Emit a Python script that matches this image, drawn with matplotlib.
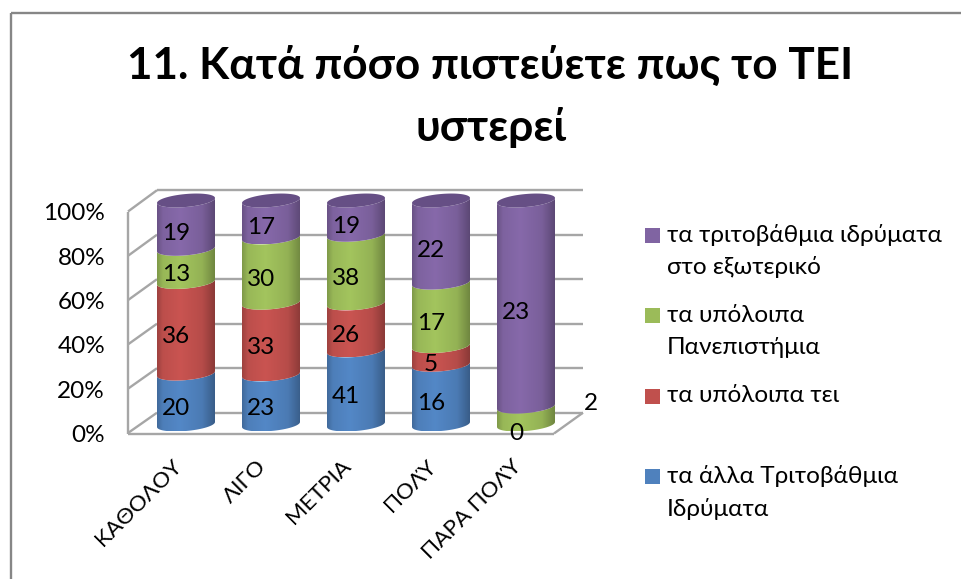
import numpy as np
import matplotlib
matplotlib.use("Agg")
import matplotlib.pyplot as plt
from matplotlib.colors import to_rgb
from matplotlib.patches import PathPatch, Rectangle
from matplotlib.path import Path

categories = ["ΚΑΘΟΛΟΥ", "ΛΙΓΟ", "ΜΕΤΡΙΑ", "ΠΟΛΎ", "ΠΑΡΑ ΠΟΛΎ"]
blue_vals = [20, 23, 41, 16, 0]
red_vals = [36, 33, 26, 5, 0]
green_vals = [13, 30, 38, 17, 2]
purple_vals = [19, 17, 19, 22, 23]
y_ticks = [0, 20, 40, 60, 80, 100]

series_colors = ["#4F81BD", "#C0504D", "#9BBB59", "#8064A2"]
legend_labels = [
    "τα άλλα Τριτοβάθμια\nΙδρύματα",
    "τα υπόλοιπα τει",
    "τα υπόλοιπα\nΠανεπιστήμια",
    "τα τριτοβάθμια ιδρύματα\nστο εξωτερικό",
]
legend_y = [476, 396, 315, 235]
title = "11. Κατά πόσο πιστεύετε πως το ΤΕΙ\nυστερεί"

FONT = ["Lato", "Open Sans"]
GRID = "#a6a6a6"
TXT = 17.5

W, H = 962, 579
# pixels of the picture: first column centre, zero level, size of one unit
X0, Y0 = 186.0, 424.5
PX_CAT, PX_PCT = 85.0, 2.24
A = 29.0 / PX_CAT
B = 6.5 / PX_PCT
TILT = 2.5 / PX_PCT

fig = plt.figure(figsize=(W / 100, H / 100), dpi=100)
ax = fig.add_axes([0, 0, 1, 1])
ax.set_xlim(-X0 / PX_CAT, (W - X0) / PX_CAT)
ax.set_ylim((Y0 - H) / PX_PCT, Y0 / PX_PCT)
ax.axis("off")


def px(x, y):
    # picture pixels to data coordinates, for the chart furniture
    return (x - X0) / PX_CAT, (Y0 - y) / PX_PCT


def line_px(x1, y1, x2, y2, color=GRID, lw=1.7):
    a, b = px(x1, y1), px(x2, y2)
    ax.plot([a[0], b[0]], [a[1], b[1]], color=color, lw=lw, solid_capstyle="butt", zorder=1)


def arc(i, p, reverse=False):
    t = np.linspace(np.pi, 2 * np.pi, 40)
    if reverse:
        t = t[::-1]
    return i + A * np.cos(t), p + B * np.sin(t) + TILT * np.cos(t)


def segment(i, p0, p1, color):
    x0, y0 = arc(i, p0)
    x1, y1 = arc(i, p1, reverse=True)
    verts = np.column_stack([np.r_[x0, x1, x0[0]], np.r_[y0, y1, y0[0]]])
    codes = [Path.MOVETO] + [Path.LINETO] * (len(verts) - 2) + [Path.CLOSEPOLY]
    patch = PathPatch(Path(verts, codes), fc="none", ec="none", transform=ax.transData)
    ax.add_patch(patch)
    # horizontal shading of the cylinder
    s = np.linspace(0, 1, 120)
    shade = np.interp(s, [0, 0.1, 0.4, 0.78, 1], [0.82, 0.98, 1.05, 0.95, 0.72])
    img = np.clip(np.outer(shade, to_rgb(color)), 0, 1)[None, :, :]
    im = ax.imshow(img, extent=[i - A, i + A, min(y0.min(), y1.min()), max(y0.max(), y1.max())],
                   aspect="auto", zorder=3, interpolation="bilinear")
    im.set_clip_path(patch)


# border of the chart
line_px(11, 13, W, 13, color="#868686")
line_px(11, 13, 11, H, color="#868686")

# walls and floor
for k, tick in enumerate(y_ticks):
    front_y = 433 - 44.3 * k
    back_y = 412.7 - 44.5 * k
    line_px(157, back_y, 583, back_y)
    line_px(128, front_y, 157, back_y)
    ax.text(*px(105, front_y + 2.5), f"{tick}%", ha="right", va="center", fontsize=TXT, family=FONT)
line_px(128, 212, 128, 434)
line_px(128, 433.5, 554, 433.5)
line_px(554, 433.5, 583, 412.7)

# cylinders
table = np.array([blue_vals, red_vals, green_vals, purple_vals], dtype=float)
totals = table.sum(axis=0)
shares = table / totals * 100
for i in range(len(categories)):
    bottom = 0.0
    for s, color in enumerate(series_colors):
        top = bottom + shares[s, i]
        if shares[s, i] > 0:
            segment(i, bottom, top, color)
        mid = (bottom + top) / 2
        value = int(table[s, i])
        if value > 0 or s == 0:
            lx, ly = i - 10 / PX_CAT, mid - 9 / PX_PCT
            if categories[i] == "ΠΑΡΑ ΠΟΛΎ" and s == 2:
                lx, ly = px(590.5, 404)
            ax.text(lx, ly, str(value), ha="center", va="center", fontsize=TXT,
                    family=FONT, zorder=5)
        bottom = top
    # top cap
    t = np.linspace(0, 2 * np.pi, 80)
    ax.fill(i + A * np.cos(t), 100 + B * np.sin(t) + TILT * np.cos(t), color="#664F85", zorder=4, lw=0)

# category labels
for i, name in enumerate(categories):
    ax.text(i - 15 / PX_CAT, px(0, 456)[1], name, rotation=45, ha="right", va="top",
            rotation_mode="anchor", fontsize=16.2, family=FONT)

# legend
for label, y, color in zip(legend_labels, legend_y, series_colors):
    x0, y0 = px(645, y + 7.5)
    ax.add_patch(Rectangle((x0, y0), 15 / PX_CAT, 15 / PX_PCT, fc=color, ec="none"))
    for n, part in enumerate(label.split("\n")):
        ax.text(*px(667, y + 32.5 * n), part, ha="left", va="center", fontsize=17.6, family=FONT)

# title
for n, part in enumerate(title.split("\n")):
    ax.text(*px(490.5, 65 + 62 * n), part, ha="center", va="center", fontsize=31.8,
            fontweight="bold", family=FONT)

fig.savefig("out.png", dpi=100)
